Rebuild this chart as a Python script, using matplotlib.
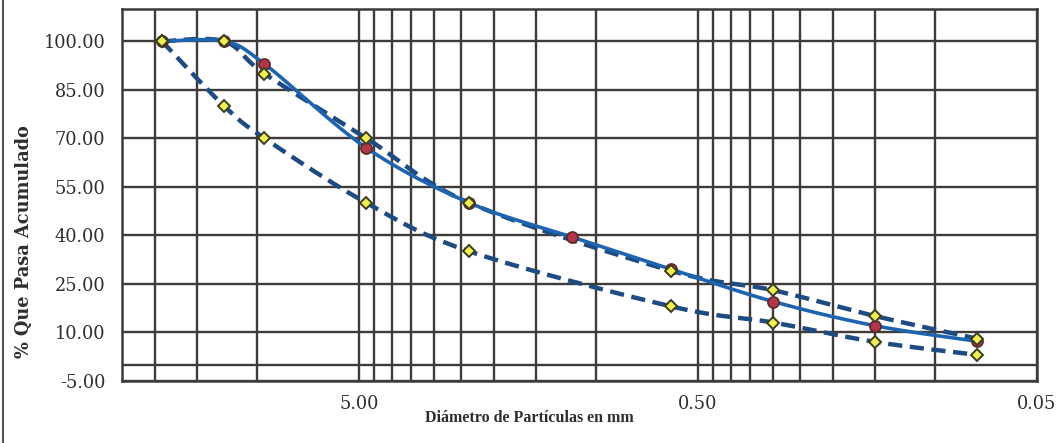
import numpy as np
import matplotlib
matplotlib.use("Agg")
import matplotlib.pyplot as plt
from matplotlib.ticker import FixedLocator, NullFormatter

# ================================================================================
# Curva granulometrica: muestra vs. limites de especificacion
sieve_mm = [19.05, 12.5, 9.5, 4.75, 2.36, 1.18, 0.6, 0.3, 0.15, 0.075]
muestra = [100, 100, 93, 67, 50, 39.5, 29.5, 19.5, 12, 7.2]

# limites: no tienen valor en 1.18
lim_sieve = [19.05, 12.5, 9.5, 4.75, 2.36, 0.6, 0.3, 0.15, 0.075]
lim_sup = [100, 100, 90, 70, 50, 29, 23, 15, 8]
lim_inf = [100, 80, 70, 50, 35, 18, 13, 7, 3]

x_labels = [5.0, 0.5, 0.05]
x_grid = [20, 15, 10, 4.5, 4, 3.5, 3, 2.5, 2, 1.5, 1,
          0.45, 0.4, 0.35, 0.3, 0.25, 0.2, 0.15, 0.1]
y_labels = [-5, 10, 25, 40, 55, 70, 85, 100]

# ================================================================================
def smooth_curve(xs, ys, n=40):
  # excel-like smoothed line (bezier / catmull-rom) in log-x space
  pts = np.column_stack([np.log10(xs), np.array(ys, dtype=float)])
  pts = np.vstack([pts[0], pts, pts[-1]])
  t = np.linspace(0, 1, n)[:, None]
  segs = []
  for i in range(1, len(pts) - 2):
    p0, p1, p2, p3 = pts[i-1], pts[i], pts[i+1], pts[i+2]
    c1 = p1 + (p2 - p0) / 6
    c2 = p2 - (p3 - p1) / 6
    seg = (1-t)**3*p1 + 3*(1-t)**2*t*c1 + 3*(1-t)*t**2*c2 + t**3*p2
    segs.append(seg)
  out = np.vstack(segs)
  return 10**out[:, 0], out[:, 1]

# ================================================================================
plt.rcParams['font.family'] = ['DejaVu Serif']
fig = plt.figure(figsize=(10.58, 4.43), dpi=100)
ax = fig.add_axes([0.1153, 0.1406, 0.8648, 0.8391])

grid_col = "#3f3b3a"
dash_col = "#1d4b82"
line_col = "#1f64b0"

xs, ys = smooth_curve(lim_sieve, lim_sup)
ax.plot(xs, ys, color=dash_col, lw=3.2, ls=(0, (3.2, 1.7)), zorder=3)
xs, ys = smooth_curve(lim_sieve, lim_inf)
ax.plot(xs, ys, color=dash_col, lw=3.2, ls=(0, (3.2, 1.7)), zorder=3)
xs, ys = smooth_curve(sieve_mm, muestra)
ax.plot(xs, ys, color=line_col, lw=2.6, zorder=4)

ax.plot(sieve_mm, muestra, ls="none", marker="o", ms=8, mfc="#b0364a",
        mec="#5a2a2a", mew=1.2, zorder=5)
ax.plot(lim_sieve, lim_sup, ls="none", marker="D", ms=6.5, mfc="#eeee55",
        mec="#3d3d1e", mew=1.4, zorder=6)
ax.plot(lim_sieve, lim_inf, ls="none", marker="D", ms=6.5, mfc="#eeee55",
        mec="#3d3d1e", mew=1.4, zorder=6)

ax.set_xscale("log")
ax.set_xlim(25, 0.05)
ax.set_ylim(-5, 110)

ax.xaxis.set_major_locator(FixedLocator(x_labels))
ax.set_xticklabels(["%.2f" % v for v in x_labels])
ax.xaxis.set_minor_locator(FixedLocator(x_grid))
ax.xaxis.set_minor_formatter(NullFormatter())
ax.set_yticks(y_labels)
ax.set_yticklabels(["%.2f" % v for v in y_labels])
ax.yaxis.set_minor_locator(FixedLocator([0]))

ax.grid(True, which="both", color=grid_col, lw=1.7)
ax.set_axisbelow(True)
ax.tick_params(which="both", length=0)
ax.tick_params(axis="y", pad=12, labelsize=12.8, colors="#2e2e2e")
ax.tick_params(axis="x", pad=10, labelsize=12.8, colors="#2e2e2e")
for s in ax.spines.values():
  s.set_color(grid_col)
  s.set_linewidth(1.8)

ax.set_xlabel("Diámetro de Partículas en mm", fontsize=11.5,
              fontweight="bold", color="#2e2e2e", family="Liberation Serif")
ax.xaxis.set_label_coords(0.445, -0.078)
ax.set_ylabel("% Que Pasa Acumulado", fontsize=12.8,
              fontweight="bold", color="#2e2e2e")
ax.yaxis.set_label_coords(-0.097, 0.375)

# borde izquierdo del escaneo
fig.add_artist(plt.Line2D([0.003, 0.003], [0, 1], color="#555555", lw=1.5))

fig.savefig("out.png", dpi=100)
